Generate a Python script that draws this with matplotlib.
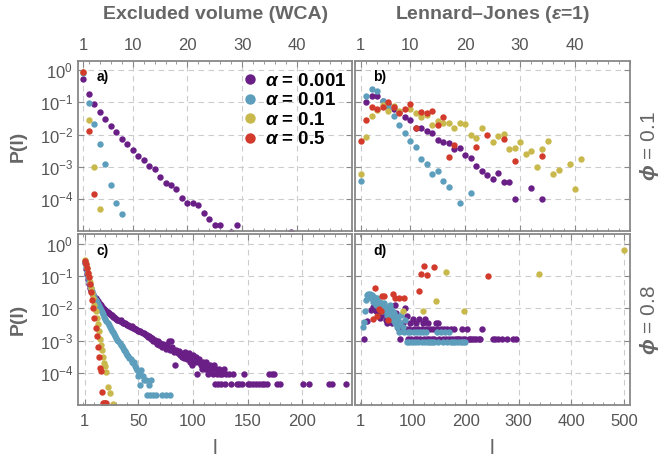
import numpy as np
import matplotlib
matplotlib.use("Agg")
from matplotlib import pyplot as plt
from matplotlib.lines import Line2D
from matplotlib.ticker import FixedLocator, MultipleLocator, NullLocator

plt.rcParams['font.family'] = ['Liberation Sans', 'DejaVu Sans']
plt.rcParams['mathtext.fontset'] = 'custom'
plt.rcParams['mathtext.rm'] = 'Liberation Sans'
plt.rcParams['mathtext.it'] = 'Liberation Sans:italic:bold'
plt.rcParams['mathtext.bf'] = 'Liberation Sans:bold'

alphas = ["0.001", "0.01", "0.1", "0.5"]
colors = ["#6a1f86", "#5e9ebd", "#c9b94c", "#d23a2b"]

# panel a: excluded volume, phi = 0.1   (values are log10 P)
a_l = [
    list(range(1, 27)) + [28, 29, 39],
    list(range(1, 9)),
    [1, 2, 3, 4],
    [1, 2, 3],
]
a_logp = [
    [-0.28, -0.75, -1.05, -1.29, -1.52, -1.74, -1.91, -2.12, -2.30, -2.48,
     -2.65, -2.79, -2.98, -3.06, -3.30, -3.49, -3.56, -3.68, -3.97, -4.10,
     -4.10, -4.16, -4.41, -4.62, -4.80, -4.80, -5.02, -4.80, -5.02],
    [-0.10, -1.01, -1.68, -2.30, -2.91, -3.55, -4.12, -4.45],
    [-0.05, -1.55, -2.99, -4.29],
    [-0.05, -1.88, -3.83],
]

# panel b: Lennard-Jones, phi = 0.1
b_l = [
    list(range(2, 30)) + [32, 34],
    list(range(1, 18)) + [19, 21],
    list(range(1, 9)) + list(range(10, 24)) + list(range(25, 38)) + [39, 40, 41],
    list(range(1, 19)) + [22, 24, 27, 29, 34],
]
b_logp = [
    [-0.98, -0.81, -0.81, -0.95, -1.05, -1.20, -1.31, -1.44, -1.53, -1.79,
     -1.79, -1.88, -1.95, -2.15, -2.23, -2.26, -2.43, -2.41, -2.63, -2.72,
     -2.98, -3.13, -3.26, -3.36, -3.19, -3.47, -3.47, -3.98, -3.65, -3.98],
    [-3.42, -0.81, -0.59, -0.64, -0.97, -1.15, -1.41, -1.71, -1.96, -2.19,
     -2.39, -2.74, -2.91, -3.22, -3.12, -3.42, -3.63, -4.12, -3.80],
    [-3.22, -2.08, -1.43, -1.23, -1.07, -1.28, -1.12, -1.28,
     -1.21, -1.33, -1.46, -1.40, -1.69, -1.57, -1.64, -1.64, -1.79, -1.64,
     -1.67, -2.02, -2.10, -1.79,
     -2.23, -2.05, -1.98, -2.44, -2.41, -2.23, -2.59, -2.49, -2.99, -2.44,
     -2.18, -3.22, -3.08,
     -2.91, -3.69, -2.74],
    [-2.19, -1.54, -1.15, -1.20, -1.15, -1.00, -1.15, -1.33, -1.20, -1.04,
     -1.79, -1.30, -1.33, -1.26, -1.71, -1.45, -2.70, -2.33,
     -2.37, -2.00, -2.13, -2.82, -2.65],
]

# panel c: excluded volume, phi = 0.8
c_l = [
    list(range(1, 131)) + [133, 135, 137, 140, 142, 145, 147, 150, 152, 155,
                           158, 160, 163, 165, 168, 170, 172, 174, 177, 180,
                           201, 206, 224, 227, 240],
    list(range(1, 56)) + [57, 58, 60, 61, 62, 64, 66, 72, 75, 79],
    list(range(1, 22)) + [22, 24, 27],
    list(range(1, 22)),
]
c_logp = [
    [-0.60, -0.78, -0.95, -1.10, -1.25, -1.36, -1.46, -1.54, -1.60, -1.66,
     -1.70, -1.75, -1.78, -1.83, -1.87, -1.90, -1.95, -1.98, -2.02, -2.05,
     -2.08, -2.12, -2.14, -2.18, -2.20, -2.22, -2.26, -2.28, -2.30, -2.33,
     -2.35, -2.37, -2.40, -2.38, -2.42, -2.45, -2.47, -2.46, -2.50, -2.52,
     -2.53, -2.55, -2.58, -2.56, -2.60, -2.62, -2.65, -2.63, -2.67, -2.70,
     -2.72, -2.70, -2.75, -2.78, -2.76, -2.80, -2.84, -2.82, -2.88, -2.85,
     -2.90, -2.95, -2.92, -3.00, -2.97, -3.05, -3.10, -3.02, -3.13, -3.08,
     -3.15, -3.20, -3.10, -3.18, -3.25, -3.12, -3.22, -3.00, -3.28, -3.00,
     -3.20, -3.30, -3.35, -3.75, -3.28, -3.40, -3.32, -3.45, -3.38, -3.50,
     -3.42, -3.55, -3.35, -3.48, -3.57, -3.40, -3.65, -3.50, -3.75, -3.45,
     -3.57, -3.65, -3.50, -4.05, -3.65, -3.57, -3.75, -3.87, -3.65, -3.75,
     -3.87, -3.65, -3.75, -4.05, -3.87, -3.75, -3.87, -4.05, -3.75, -4.35,
     -3.87, -4.05, -4.35, -3.87, -4.05, -4.35, -4.05, -3.87, -4.35, -4.05,
     -4.05, -4.35, -4.05, -4.35, -4.35, -4.35, -4.05, -4.35, -4.35, -4.35,
     -4.35, -4.35, -4.35, -4.35, -4.35, -4.05, -4.05, -4.05, -4.35, -4.35,
     -4.35, -4.35, -4.35, -4.35, -4.35],
    [-0.55, -0.72, -0.88, -1.02, -1.15, -1.27, -1.38, -1.48, -1.57, -1.66,
     -1.74, -1.82, -1.88, -1.94, -2.00, -2.06, -2.12, -2.19, -2.26, -2.33,
     -2.40, -2.46, -2.52, -2.58, -2.64, -2.70, -2.75, -2.80, -2.86, -2.92,
     -2.97, -3.02, -3.08, -3.14, -3.18, -3.24, -3.28, -3.34, -3.38, -3.44,
     -3.48, -3.55, -3.58, -3.65, -3.70, -3.68, -3.80, -3.86, -3.90, -4.09,
     -3.99, -4.39, -3.90, -4.09, -4.21,
     -4.21, -4.69, -4.39, -4.69, -4.21, -4.69, -4.69, -4.69, -4.69, -4.69],
    [-0.50, -0.62, -0.76, -0.90, -1.05, -1.20, -1.36, -1.52, -1.70, -1.90,
     -2.10, -2.30, -2.50, -2.70, -2.95, -3.15, -3.30, -3.50, -3.70, -3.80,
     -3.96, -4.43, -4.63, -4.95],
    [-0.55, -0.62, -0.75, -0.90, -1.05, -1.25, -1.50, -1.75, -2.00, -2.30,
     -2.60, -2.85, -3.20, -3.50, -3.85, -3.95, -4.60, -4.92, -4.92, -4.92,
     -4.92],
]

# panel d: Lennard-Jones, phi = 0.8
d_l = [
    [7, 12, 20, 25, 30, 35, 38, 42, 45, 48, 50, 52, 55, 58, 60, 62, 65, 68,
     70, 72, 75, 78, 80, 84, 86, 88, 90, 92, 95, 97, 100, 102, 104, 106, 108,
     110, 112, 114, 116, 118, 120, 122, 124, 126, 128, 130, 132, 135, 138,
     140, 143, 146, 148, 150, 153, 156, 159, 162, 165, 168, 171, 174, 177,
     180, 183, 186, 189, 192, 195, 198, 202, 205, 208, 212, 216, 220, 224,
     227, 230, 252, 256, 260, 268, 278, 290, 295],
    [6, 7, 8, 10, 12, 14, 16, 18, 20, 22, 24, 26, 28, 30, 32, 34, 36, 38, 40,
     42, 44, 46, 48, 50, 52, 54, 56, 58, 60, 62, 64, 66, 68, 70, 72, 74, 76,
     78, 80, 82, 84, 88, 90, 92, 95, 98, 101, 104, 107, 110, 113, 116, 119,
     122, 125, 128, 132, 136, 140, 145, 148, 152, 156, 160, 164, 168, 172,
     176, 180, 185, 190, 195, 199],
    [80, 118, 143, 163, 197, 339, 500],
    [25, 28, 32, 36, 39, 41, 44, 53, 62, 66, 74, 82, 112, 115, 120, 126, 140,
     242],
]
d_logp = [
    [-2.94, -2.40, -2.05, -1.95, -2.10, -2.15, -2.30, -2.20, -2.05, -2.35,
     -2.45, -2.25, -2.40, -2.10, -2.45, -2.30, -1.90, -2.15, -2.40, -2.60,
     -2.94, -2.64, -2.46, -2.00, -2.64, -2.25, -2.94, -2.64, -2.46, -2.94,
     -2.34, -2.64, -2.94, -2.46, -2.94, -2.64, -2.34, -2.94, -2.64, -2.46,
     -2.94, -2.34, -2.64, -2.94, -2.46, -2.94, -2.64, -2.94, -2.64, -2.94,
     -2.46, -2.64, -2.46, -2.94, -2.64, -2.94, -2.64, -2.94, -2.64, -2.94,
     -2.64, -2.94, -2.64, -2.94, -2.94, -2.94, -2.94, -2.64, -2.94, -2.94,
     -2.64, -2.94, -2.94, -2.94, -2.94, -2.94, -2.94, -2.94, -2.64, -2.94,
     -2.94, -2.94, -2.94, -2.94, -2.94, -2.94],
    [-2.57, -2.44, -2.10, -1.75, -1.60, -1.55, -1.65, -1.55, -1.70, -1.60,
     -1.80, -1.65, -1.75, -1.90, -1.70, -1.85, -2.00, -1.80, -1.95, -2.10,
     -1.85, -2.05, -1.95, -2.20, -2.00, -2.15, -1.90, -2.25, -2.05, -2.35,
     -2.15, -2.45, -2.25, -2.57, -2.35, -2.75, -2.45, -2.20, -2.57, -2.75,
     -2.35, -3.06, -2.75, -3.06, -2.75, -3.06, -2.75, -3.06, -2.75, -3.06,
     -2.75, -3.06, -2.75, -3.06, -2.75, -3.06, -3.06, -3.06, -3.06, -2.75,
     -3.06, -2.75, -3.06, -2.75, -3.06, -2.75, -3.06, -3.06, -3.06, -3.06,
     -3.06, -3.06, -3.06],
    [-2.08, -2.08, -1.77, -0.89, -2.08, -0.94, -0.20],
    [-2.34, -1.36, -2.24, -2.03, -2.10, -1.62, -1.62, -2.36, -1.56, -1.67,
     -1.67, -1.67, -1.48, -0.95, -0.69, -0.97, -0.73, -1.00],
]

gray = "#666666"
fig = plt.figure(figsize=(6.6, 4.58), dpi=100)
left_x, right_x = 0.1182, 0.5379
top_y, bot_y = 0.4956, 0.1168
w_l, w_r, h = 0.4144, 0.4167, 0.3712
ax_a = fig.add_axes([left_x, top_y, w_l, h])
ax_b = fig.add_axes([right_x, top_y, w_r, h])
ax_c = fig.add_axes([left_x, bot_y, w_l, h])
ax_d = fig.add_axes([right_x, bot_y, w_r, h])

panels = [
    (ax_a, a_l, a_logp, "a)", (0, 50), [1, 10, 20, 30, 40], 2, True),
    (ax_b, b_l, b_logp, "b)", (0, 50), [1, 10, 20, 30, 40], 2, True),
    (ax_c, c_l, c_logp, "c)", (-5, 245), [1, 50, 100, 150, 200], 10, False),
    (ax_d, d_l, d_logp, "d)", (-10, 511), [1, 100, 200, 300, 400, 500], 20, False),
]

for ax, ls, ps, tag, xlim, xt, minor, top in panels:
    for l, p, c in zip(ls, ps, colors):
        ax.plot(l, np.power(10.0, p), 'o', color=c, ms=4.6, mec='none')
    ax.set_yscale('log')
    ax.set_ylim(10 ** -4.98, 10 ** 0.28)
    ax.set_xlim(*xlim)
    ax.xaxis.set_major_locator(FixedLocator(xt))
    ax.xaxis.set_minor_locator(MultipleLocator(minor))
    ax.yaxis.set_major_locator(FixedLocator([1e-4, 1e-3, 1e-2, 1e-1, 1e0]))
    ax.yaxis.set_minor_locator(NullLocator())
    ax.grid(True, which='major', color='#cccccc', ls=(0, (5, 4)), lw=0.8)
    ax.set_axisbelow(True)
    for s in ax.spines.values():
        s.set_color('#888888')
        s.set_linewidth(1.3)
    ax.tick_params(which='both', direction='in', top=True, right=True,
                   color='#888888', labelcolor='#555555', labelsize=12)
    ax.tick_params(which='major', length=4)
    ax.tick_params(which='minor', length=2)
    if top:
        ax.tick_params(axis='x', labeltop=True, labelbottom=False, pad=6)
    else:
        ax.tick_params(axis='x', pad=7)
    if ax in (ax_b, ax_d):
        ax.tick_params(axis='y', labelleft=False)
    ax.text(0.09, 0.905, tag, transform=ax.transAxes, fontsize=10,
            fontweight='bold', ha='center', va='center')

handles = [Line2D([], [], ls='none', marker='o', ms=7.5, color=c, mec='none')
           for c in colors]
labels = [r"$\alpha$ = " + a for a in alphas]
ax_a.legend(handles, labels, loc='upper left', bbox_to_anchor=(0.6, 0.93),
            frameon=False, borderpad=0, borderaxespad=0, handlelength=0.8,
            handletextpad=0.4, labelspacing=0.12,
            prop={'weight': 'bold', 'size': 13.5})

fig.text(0.326, 0.968, "Excluded volume (WCA)", ha='center', va='center',
         fontsize=14, fontweight='bold', color=gray)
fig.text(0.746, 0.968, r"Lennard–Jones ($\epsilon$=1)", ha='center',
         va='center', fontsize=14, fontweight='bold', color=gray)
fig.text(0.027, 0.681, "P(l)", rotation=90, ha='center', va='center',
         fontsize=14, fontweight='bold', color=gray)
fig.text(0.027, 0.302, "P(l)", rotation=90, ha='center', va='center',
         fontsize=14, fontweight='bold', color=gray)
fig.text(0.984, 0.681, r"$\phi$ = 0.1", rotation=90, ha='center', va='center',
         fontsize=15, color=gray)
fig.text(0.984, 0.302, r"$\phi$ = 0.8", rotation=90, ha='center', va='center',
         fontsize=15, color=gray)
fig.text(0.326, 0.008, "l", ha='center', va='baseline', fontsize=15, color=gray)
fig.text(0.746, 0.008, "l", ha='center', va='baseline', fontsize=15, color=gray)

fig.savefig("out.png", dpi=100)
